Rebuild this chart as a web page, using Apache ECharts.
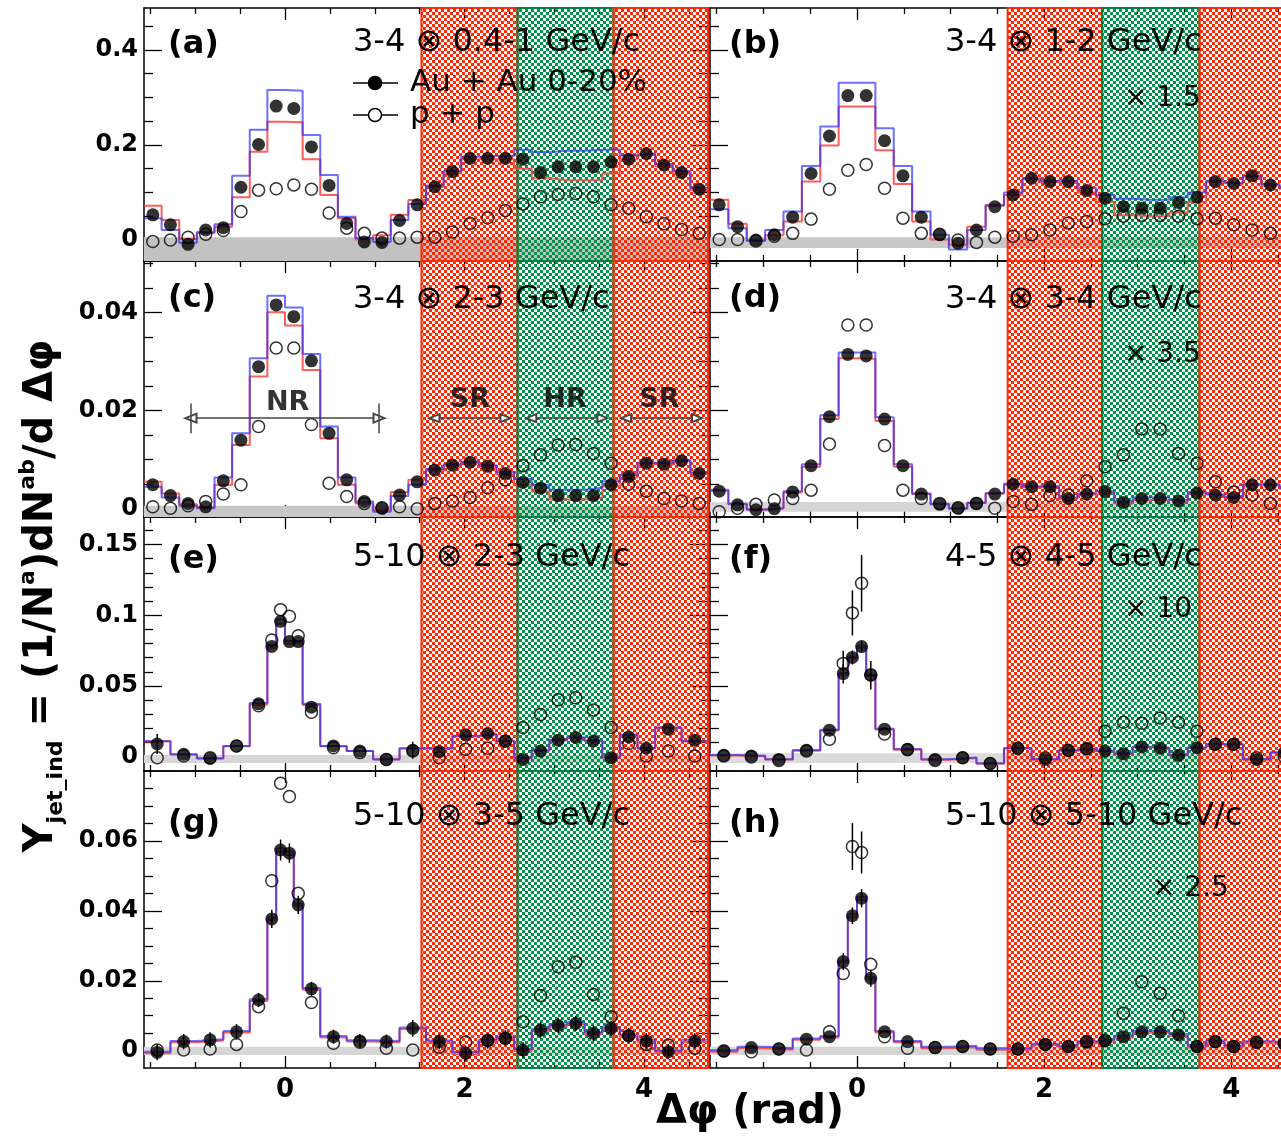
<!DOCTYPE html>
<html><head><meta charset="utf-8">
<script src="https://cdn.jsdelivr.net/npm/echarts@6/dist/echarts.min.js"></script>
<style>html,body{margin:0;padding:0;background:#fff}#c{width:1281px;height:1141px}</style>
</head><body><div id="c"></div>
<script>
const PI = Math.PI;
const U = PI / 32;           // bin edges below are given in units of pi/32

// ---------- binning ----------
const edgesAD = [-16,-14,-12,-10,-8,-6,-4,-2,0,2,4,6,8,10,12,14,16,18,20,22,24,26,28,30,32,34,36,38,40,42,44,46,48];
const edgesEH = [-16,-13,-10,-7,-4,-2,-1,0,1,2,4,7,10,13,16,19,22,24,26,28,30,32,34,36,38,40,42,45,48];

// ---------- panel (a) ----------
const auA = [0.053,0.032,-0.009,0.021,0.026,0.111,0.201,0.282,0.277,0.196,0.115,0.035,-0.004,-0.005,0.041,0.074, 0.112,0.144,0.172,0.172,0.172,0.170,0.142,0.154,0.154,0.154,0.164,0.170,0.182,0.158,0.142,0.107];
const ppA = [-0.003,0.000,0.006,0.012,0.020,0.060,0.105,0.108,0.116,0.107,0.057,0.025,0.014,0.004,0.004,0.006, 0.006,0.017,0.035,0.047,0.062,0.076,0.091,0.096,0.098,0.091,0.074,0.067,0.049,0.034,0.022,0.014];
const hiA = [0.046,0.021,-0.006,0.017,0.033,0.135,0.232,0.316,0.314,0.221,0.137,0.049,0.004,-0.004,0.042,0.076, 0.115,0.145,0.175,0.177,0.177,0.190,0.185,0.188,0.188,0.190,0.190,0.178,0.182,0.160,0.145,0.110];
const loA = [0.072,0.042,0.002,0.015,0.028,0.090,0.186,0.249,0.248,0.170,0.095,0.046,0.001,0.010,0.053,0.084, 0.112,0.140,0.170,0.170,0.170,0.150,0.130,0.126,0.126,0.126,0.140,0.170,0.180,0.155,0.140,0.105];
// ---------- panel (b) ----------
const auB = [0.074,0.028,0.000,0.011,0.048,0.140,0.219,0.304,0.304,0.209,0.135,0.048,0.011,-0.007,0.021,0.070, 0.095,0.130,0.123,0.123,0.104,0.088,0.070,0.067,0.067,0.079,0.090,0.123,0.119,0.135,0.116,0.110];
const ppB = [0.001,0.001,-0.002,0.008,0.014,0.044,0.107,0.147,0.159,0.109,0.046,0.014,0.012,0.000,-0.005,0.006, 0.008,0.011,0.021,0.036,0.039,0.045,0.050,0.052,0.052,0.050,0.045,0.046,0.032,0.021,0.014,0.010];
const hiB = [0.065,0.025,-0.002,0.021,0.060,0.156,0.239,0.331,0.331,0.235,0.156,0.060,0.011,-0.020,0.021,0.072, 0.100,0.130,0.125,0.125,0.110,0.095,0.087,0.085,0.085,0.090,0.100,0.125,0.120,0.135,0.118,0.110];
const loB = [0.085,0.034,0.000,0.010,0.039,0.123,0.199,0.281,0.281,0.189,0.118,0.039,0.001,-0.010,0.028,0.074, 0.095,0.128,0.122,0.120,0.100,0.080,0.052,0.050,0.050,0.058,0.080,0.122,0.118,0.133,0.115,0.108];
// ---------- panel (c) ----------
const auC = [0.0048,0.0026,0.0010,0.0003,0.0056,0.0139,0.0289,0.0415,0.0391,0.0301,0.0153,0.0058,0.0014,0.0000,0.0027,0.0054, 0.0078,0.0088,0.0094,0.0086,0.0071,0.0053,0.0041,0.0026,0.0026,0.0026,0.0048,0.0065,0.0092,0.0090,0.0097,0.0071];
const ppC = [0.0003,0.0000,0.0005,0.0014,0.0029,0.0048,0.0167,0.0327,0.0327,0.0171,0.0051,0.0024,0.0010,0.0001,0.0003,-0.0001, 0.0010,0.0015,0.0022,0.0042,0.0058,0.0087,0.0109,0.0129,0.0130,0.0112,0.0092,0.0049,0.0035,0.0020,0.0015,0.0010];
const hiC = [0.0044,0.0022,0.0005,0.0000,0.0063,0.0153,0.0306,0.0434,0.0410,0.0315,0.0167,0.0063,0.0014,-0.0007,0.0025,0.0048, 0.0080,0.0090,0.0095,0.0088,0.0074,0.0060,0.0048,0.0038,0.0038,0.0042,0.0055,0.0068,0.0093,0.0092,0.0098,0.0073];
const loC = [0.0054,0.0030,0.0008,0.0002,0.0048,0.0129,0.0269,0.0400,0.0373,0.0282,0.0143,0.0048,0.0010,-0.0004,0.0033,0.0058, 0.0077,0.0087,0.0093,0.0085,0.0069,0.0048,0.0034,0.0018,0.0018,0.0022,0.0045,0.0063,0.0090,0.0089,0.0096,0.0070];
// ---------- panel (d) ----------
const auD = [0.0035,0.0007,-0.0003,-0.0001,0.0033,0.0087,0.0187,0.0314,0.0311,0.0182,0.0087,0.0029,0.0008,0.0000,0.0010,0.0029, 0.0049,0.0044,0.0044,0.0020,0.0029,0.0034,0.0012,0.0020,0.0020,0.0015,0.0031,0.0027,0.0022,0.0048,0.0048,0.0040];
const ppD = [-0.0007,0.0000,0.0008,0.0017,0.0020,0.0037,0.0131,0.0374,0.0374,0.0128,0.0037,0.0020,0.0010,0.0001,0.0010,0.0000, 0.0014,0.0008,0.0026,0.0027,0.0056,0.0085,0.0109,0.0162,0.0162,0.0112,0.0092,0.0054,0.0033,0.0027,0.0010,0.0014];
const hiD = [0.0036,0.0008,-0.0003,0.0000,0.0035,0.0090,0.0190,0.0318,0.0318,0.0186,0.0090,0.0030,0.0008,-0.0001,0.0011,0.0030, 0.0050,0.0045,0.0045,0.0022,0.0030,0.0035,0.0014,0.0022,0.0022,0.0017,0.0033,0.0028,0.0023,0.0049,0.0049,0.0041];
const loD = [0.0038,0.0009,-0.0002,0.0000,0.0032,0.0085,0.0182,0.0306,0.0305,0.0178,0.0085,0.0029,0.0009,0.0000,0.0012,0.0031, 0.0048,0.0043,0.0043,0.0019,0.0028,0.0032,0.0010,0.0017,0.0017,0.0013,0.0030,0.0026,0.0021,0.0047,0.0047,0.0040];
// ---------- panel (e) ----------
const auE = [0.0090,0.0017,-0.0012,0.0076,0.0374,0.0780,0.0957,0.0814,0.0814,0.0350,0.0076,0.0040,-0.0019,0.0045, 0.0036,0.0155,0.0164,0.0112,-0.0019,0.0040,0.0117,0.0136,0.0112,-0.0007,0.0140,0.0060,0.0195,0.0117];
const ppE = [-0.0007,0.0005,-0.0007,0.0076,0.0360,0.0826,0.1040,0.0993,0.0855,0.0314,0.0064,0.0029,-0.0019,0.0040, -0.0007,0.0052,0.0060,0.0110,0.0207,0.0298,0.0402,0.0417,0.0331,0.0207,0.0093,0.0005,0.0040,0.0005];
const hiE = [0.0112,0.0017,-0.0012,0.0076,0.0379,0.0790,0.0970,0.0818,0.0818,0.0374,0.0076,0.0041,-0.0019,0.0060, 0.0060,0.0148,0.0160,0.0112,-0.0007,0.0045,0.0120,0.0138,0.0115,-0.0003,0.0155,0.0060,0.0207,0.0112];
const loE = [0.0108,0.0016,-0.0011,0.0074,0.0370,0.0770,0.0940,0.0800,0.0800,0.0366,0.0074,0.0040,-0.0018,0.0058, 0.0058,0.0145,0.0157,0.0110,-0.0010,0.0042,0.0115,0.0133,0.0110,-0.0006,0.0150,0.0058,0.0203,0.0108];
const errAuE = [0.007,0,0,0,0,0,0,0,0,0,0,0,0,0.006, 0,0,0,0,0,0,0,0,0,0,0,0,0,0];
const errPpE = [0,0,0,0,0,0,0,0,0,0,0,0,0,0, 0,0,0,0,0,0,0,0,0,0,0,0,0,0];
// ---------- panel (f) ----------
const auF = [0.0010,0.0005,-0.0019,0.0045,0.0188,0.0588,0.0702,0.0779,0.0576,0.0195,0.0052,-0.0019,-0.0007,-0.0048, 0.0060,-0.0019,0.0045,0.0057,0.0040,0.0021,0.0069,0.0060,0.0010,0.0064,0.0088,0.0088,-0.0019,0.0030];
const ppF = [0.0005,-0.0002,-0.0026,0.0040,0.0124,0.0660,0.1017,0.1226,0.0580,0.0160,0.0050,-0.0026,-0.0007,-0.0048, 0.0060,-0.0007,0.0045,0.0057,0.0180,0.0243,0.0236,0.0274,0.0243,0.0180,0.0088,0.0088,-0.0007,0.0000];
const hiF = [0.0012,0.0006,-0.0018,0.0047,0.0190,0.0592,0.0706,0.0783,0.0580,0.0198,0.0054,-0.0018,-0.0006,-0.0046, 0.0062,-0.0017,0.0047,0.0059,0.0042,0.0024,0.0071,0.0063,0.0013,0.0066,0.0090,0.0090,-0.0017,0.0032];
const loF = [0.0009,0.0004,-0.0020,0.0043,0.0185,0.0582,0.0696,0.0772,0.0570,0.0192,0.0050,-0.0021,-0.0009,-0.0050, 0.0058,-0.0021,0.0043,0.0055,0.0038,0.0019,0.0067,0.0058,0.0008,0.0062,0.0086,0.0086,-0.0021,0.0028];
const errAuF = [0,0,0,0,0,0.007,0.005,0.004,0.010,0,0,0,0,0, 0,0,0,0,0,0,0,0,0,0,0,0,0,0];
const errPpF = [0,0,0,0,0,0.009,0.016,0.020,0,0,0,0,0,0, 0,0,0,0,0,0,0,0,0,0,0,0,0,0];
// ---------- panel (g) ----------
const auG = [-0.0005,0.0026,0.0031,0.0054,0.0145,0.0377,0.0574,0.0565,0.0417,0.0177,0.0040,0.0028,0.0026,0.0064, 0.0026,-0.0007,0.0028,0.0037,0.0002,0.0059,0.0072,0.0078,0.0050,0.0064,0.0043,0.0028,-0.0003,0.0028];
const ppG = [0.0002,0.0002,0.0005,0.0018,0.0126,0.0486,0.0765,0.0727,0.0450,0.0138,0.0021,0.0024,0.0007,0.0002, 0.0010,0.0025,0.0030,0.0035,0.0083,0.0158,0.0240,0.0253,0.0161,0.0097,0.0043,0.0018,0.0016,0.0007];
const hiG = [-0.0003,0.0028,0.0033,0.0056,0.0147,0.0380,0.0578,0.0569,0.0420,0.0179,0.0042,0.0030,0.0028,0.0066, 0.0029,-0.0004,0.0031,0.0040,0.0005,0.0062,0.0075,0.0081,0.0053,0.0067,0.0046,0.0031,0.0000,0.0031];
const loG = [-0.0007,0.0024,0.0029,0.0052,0.0142,0.0373,0.0569,0.0560,0.0413,0.0174,0.0038,0.0026,0.0024,0.0062, 0.0023,-0.0010,0.0025,0.0034,-0.0001,0.0056,0.0069,0.0075,0.0047,0.0061,0.0040,0.0025,-0.0006,0.0025];
const errAuG = [0.0022,0.0022,0.0022,0.0022,0.0020,0.0026,0.0030,0.0028,0.0026,0.0020,0.0020,0.0020,0.0020,0.0024, 0.0022,0.0022,0.0022,0.0022,0.0022,0.0022,0.0022,0.0022,0.0022,0.0022,0.0022,0.0022,0.0022,0.0022];
const errPpG = [0,0,0,0,0,0,0,0,0,0,0,0,0,0, 0,0,0,0,0,0,0,0,0,0,0,0,0,0];
// ---------- panel (h) ----------
const auH = [-0.0001,0.0009,0.0005,0.0033,0.0040,0.0255,0.0386,0.0436,0.0207,0.0054,0.0026,0.0009,0.0012,0.0005, 0.0005,0.0018,0.0012,0.0024,0.0028,0.0040,0.0054,0.0054,0.0045,0.0012,0.0026,0.0012,0.0024,0.0020];
const ppH = [-0.0001,-0.0003,0.0005,0.0002,0.0054,0.0221,0.0584,0.0567,0.0247,0.0040,0.0007,0.0009,0.0012,0.0005, 0.0005,0.0018,0.0012,0.0026,0.0030,0.0107,0.0197,0.0164,0.0100,0.0012,0.0026,0.0012,0.0024,0.0020];
const hiH = [0.0001,0.0011,0.0007,0.0035,0.0042,0.0258,0.0390,0.0440,0.0210,0.0056,0.0028,0.0011,0.0014,0.0007, 0.0007,0.0020,0.0014,0.0027,0.0031,0.0043,0.0057,0.0057,0.0048,0.0015,0.0029,0.0015,0.0027,0.0023];
const loH = [-0.0003,0.0007,0.0003,0.0031,0.0038,0.0252,0.0382,0.0432,0.0204,0.0052,0.0024,0.0007,0.0010,0.0003, 0.0003,0.0016,0.0010,0.0021,0.0025,0.0037,0.0051,0.0051,0.0042,0.0009,0.0023,0.0009,0.0021,0.0017];
const errAuH = [0,0,0,0,0,0.0024,0.0024,0.0026,0.0024,0,0,0,0,0, 0,0,0,0,0,0,0,0,0,0,0,0,0,0];
const errPpH = [0,0,0,0,0,0,0.0067,0.0060,0,0,0,0,0,0, 0,0,0,0,0,0,0,0,0,0,0,0,0,0];

// zero-level systematic bands [low, high]
const bandA = [-0.0442, 0.006], bandB = [-0.017, 0.006], bandC = [-0.0018, 0.0005], bandD = [-0.0007, 0.0013];
const bandE = [-0.0045, 0.0012], bandF = [-0.0045, 0.0025], bandG = [-0.0012, 0.0011], bandH = [-0.0012, 0.0011];

// shoulder / head / shoulder region edges (rad), left and right columns
const regionsLeft  = [1.52, 2.59, 3.66, 3 * PI / 2];
const regionsRight = [1.61, 2.62, 3.66, 3 * PI / 2];

// axis ticks
const xMajor = [0, 2, 4];
const xMinor = [-1.5, -1, -0.5, 0.5, 1, 1.5, 2.5, 3, 3.5, 4.5];
const yRanges = [[-0.0442, 0.4884], [-0.00178, 0.05047], [-0.0101, 0.1695], [-0.00495, 0.0800]];
const yMajor = [[0, 0.2, 0.4], [0, 0.02, 0.04], [0, 0.05, 0.1, 0.15], [0, 0.02, 0.04, 0.06]];
const yMinor = [
  [0.05, 0.1, 0.15, 0.25, 0.3, 0.35, 0.45],
  [0.005, 0.01, 0.015, 0.025, 0.03, 0.035, 0.045, 0.05],
  [0.01, 0.02, 0.03, 0.04, 0.06, 0.07, 0.08, 0.09, 0.11, 0.12, 0.13, 0.14, 0.16],
  [0.005, 0.01, 0.015, 0.025, 0.03, 0.035, 0.045, 0.05, 0.055, 0.065, 0.07, 0.075]
];

// texts
const panelLetters = ['(a)', '(b)', '(c)', '(d)', '(e)', '(f)', '(g)', '(h)'];
const rangeTexts = ['3-4 \u2297 0.4-1 GeV/c', '3-4 \u2297 1-2 GeV/c', '3-4 \u2297 2-3 GeV/c', '3-4 \u2297 3-4 GeV/c',
                    '5-10 \u2297 2-3 GeV/c', '4-5 \u2297 4-5 GeV/c', '5-10 \u2297 3-5 GeV/c', '5-10 \u2297 5-10 GeV/c'];
const scaleTexts = ['', '\u00d7 1.5', '', '\u00d7 3.5', '', '\u00d7 10', '', '\u00d7 2.5'];
const legendNames = ['Au + Au 0-20%', 'p + p'];
const regionNames = ['NR', 'SR', 'HR', 'SR'];
const regionLabelX = [0.03, 2.06, 3.12, 4.17];
const regionLabelY = [0.0214, 0.0222, 0.0222, 0.0222];
const nrRange = [-PI / 3, PI / 3];
const arrowRanges = [[1.665, 2.456], [2.744, 3.536], [3.80, 4.59]];
const arrowY = 0.0184;

const panels = [
  {col: 0, row: 0, edges: edgesAD, au: auA, pp: ppA, hi: hiA, lo: loA, band: bandA, bandColor: '#c2c2c2'},
  {col: 1, row: 0, edges: edgesAD, au: auB, pp: ppB, hi: hiB, lo: loB, band: bandB, bandColor: '#c8c8c8'},
  {col: 0, row: 1, edges: edgesAD, au: auC, pp: ppC, hi: hiC, lo: loC, band: bandC, bandColor: '#c8c8c8'},
  {col: 1, row: 1, edges: edgesAD, au: auD, pp: ppD, hi: hiD, lo: loD, band: bandD, bandColor: '#d6d6d6'},
  {col: 0, row: 2, edges: edgesEH, au: auE, pp: ppE, hi: hiE, lo: loE, band: bandE, bandColor: '#d6d6d6', eAu: errAuE, ePp: errPpE},
  {col: 1, row: 2, edges: edgesEH, au: auF, pp: ppF, hi: hiF, lo: loF, band: bandF, bandColor: '#dadada', eAu: errAuF, ePp: errPpF},
  {col: 0, row: 3, edges: edgesEH, au: auG, pp: ppG, hi: hiG, lo: loG, band: bandG, bandColor: '#d6d6d6', eAu: errAuG, ePp: errPpG},
  {col: 1, row: 3, edges: edgesEH, au: auH, pp: ppH, hi: hiH, lo: loH, band: bandH, bandColor: '#d6d6d6', eAu: errAuH, ePp: errPpH}
];

// ---------- layout (pixels) ----------
const colLeft = [144, 710], colWidth = [564, 588];
const rowTop = [8, 261, 517, 771], rowHeight = [253, 256, 254, 297];

function checker(color, cell) {
  const cv = document.createElement('canvas');
  cv.width = cv.height = cell * 2;
  const g = cv.getContext('2d');
  g.fillStyle = color;
  g.fillRect(0, 0, cell, cell);
  g.fillRect(cell, cell, cell, cell);
  return cv;
}
const RED = '#ff2a05', GREEN = '#00914a';
const redPat = {image: checker(RED, 3), repeat: 'repeat'};
const greenPat = {image: checker(GREEN, 3), repeat: 'repeat'};

const FONT = 'DejaVu Sans';
const fmt = v => String(+(+v).toFixed(4));

const grids = [], xAxes = [], yAxes = [], series = [], graphics = [];

function stepPoints(edges, vals) {
  const pts = [];
  vals.forEach((v, i) => { pts.push([edges[i] * U, v], [edges[i + 1] * U, v]); });
  return pts;
}
function errSeries(xi, yi, centers, vals, errs, z) {
  const data = [];
  centers.forEach((c, i) => { if (errs && errs[i]) data.push([c, vals[i], errs[i]]); });
  return {
    type: 'custom', xAxisIndex: xi, yAxisIndex: yi, z: z, silent: true, clip: true,
    data: data, encode: {x: 0, y: 1},
    renderItem: (params, api) => {
      const x = api.value(0), y = api.value(1), e = api.value(2);
      const p1 = api.coord([x, y - e]), p2 = api.coord([x, y + e]);
      return {type: 'line', shape: {x1: p1[0], y1: p1[1], x2: p2[0], y2: p2[1]}, style: {stroke: '#000', lineWidth: 1.5}};
    }
  };
}

panels.forEach((p, k) => {
  const r = p.row, c = p.col;
  grids.push({left: colLeft[c], top: rowTop[r], width: colWidth[c], height: rowHeight[r], outerBoundsMode: 'none', containLabel: false});
  const xi = xAxes.length, yi = yAxes.length;
  const xBase = {gridIndex: k, type: 'value', min: -PI / 2, max: 3 * PI / 2, splitLine: {show: false}};
  const line = {show: true, onZero: false, lineStyle: {color: '#000', width: 1.5}};
  const noLine = {show: false, onZero: false};
  const tickStyle = {color: '#000', width: 1.3};
  ['bottom', 'top'].forEach(pos => {
    xAxes.push(Object.assign({}, xBase, {
      position: pos, axisLine: line,
      axisTick: {show: true, inside: true, length: 12, customValues: xMajor, lineStyle: tickStyle},
      axisLabel: {show: pos === 'bottom' && r === 3, customValues: xMajor, formatter: fmt,
        fontFamily: FONT, fontWeight: 'bold', fontSize: 26, color: '#000', margin: 9}
    }));
    xAxes.push(Object.assign({}, xBase, {
      position: pos, axisLine: noLine,
      axisTick: {show: true, inside: true, length: 6, customValues: xMinor, lineStyle: tickStyle},
      axisLabel: {show: false}
    }));
  });
  const yBase = {gridIndex: k, type: 'value', min: yRanges[r][0], max: yRanges[r][1], splitLine: {show: false}};
  ['left', 'right'].forEach(pos => {
    yAxes.push(Object.assign({}, yBase, {
      position: pos, axisLine: line,
      axisTick: {show: true, inside: true, length: 18, customValues: yMajor[r], lineStyle: tickStyle},
      axisLabel: {show: pos === 'left' && c === 0, customValues: yMajor[r], formatter: fmt,
        fontFamily: FONT, fontWeight: 'bold', fontSize: 24, color: '#000', margin: 6}
    }));
    yAxes.push(Object.assign({}, yBase, {
      position: pos, axisLine: noLine,
      axisTick: {show: true, inside: true, length: 9, customValues: yMinor[r], lineStyle: tickStyle},
      axisLabel: {show: false}
    }));
  });

  const centers = p.au.map((v, i) => (p.edges[i] + p.edges[i + 1]) / 2 * U);
  const ax = {xAxisIndex: xi, yAxisIndex: yi};

  // zero-level band
  series.push(Object.assign({type: 'line', data: [], z: 1, silent: true,
    markArea: {silent: true, itemStyle: {color: p.bandColor},
      data: [[{xAxis: -PI / 2, yAxis: p.band[0]}, {xAxis: 3 * PI / 2, yAxis: p.band[1]}]]}}, ax));
  // systematic histograms
  series.push(Object.assign({type: 'line', name: 'lower', data: stepPoints(p.edges, p.lo), showSymbol: false, z: 2,
    silent: true, lineStyle: {color: '#ff4040', width: 2, opacity: 0.85}}, ax));
  series.push(Object.assign({type: 'line', name: 'upper', data: stepPoints(p.edges, p.hi), showSymbol: false, z: 2,
    silent: true, lineStyle: {color: '#3030ff', width: 2, opacity: 0.7}}, ax));
  // p+p
  if (p.ePp) series.push(errSeries(xi, yi, centers, p.pp, p.ePp, 3));
  series.push(Object.assign({type: 'scatter', name: legendNames[1], data: centers.map((x, i) => [x, p.pp[i]]),
    symbol: 'circle', symbolSize: 12, z: 3, silent: true,
    itemStyle: {color: 'rgba(255,255,255,0)', borderColor: '#000', borderWidth: 1.5}}, ax));
  // Au+Au
  if (p.eAu) series.push(errSeries(xi, yi, centers, p.au, p.eAu, 4));
  series.push(Object.assign({type: 'scatter', name: legendNames[0], data: centers.map((x, i) => [x, p.au[i]]),
    symbol: 'circle', symbolSize: 13, z: 4, silent: true, itemStyle: {color: '#000'}}, ax));

  // region annotations in panel (c)
  if (k === 2) {
    const ml = [];
    ml.push([{coord: [nrRange[0], arrowY], symbol: 'emptyTriangle', symbolSize: [9, 11]},
             {coord: [nrRange[1], arrowY], symbol: 'emptyTriangle', symbolSize: [9, 11]}]);
    ml.push([{coord: [nrRange[0], 0.0153]}, {coord: [nrRange[0], 0.0214]}]);
    ml.push([{coord: [nrRange[1], 0.0153]}, {coord: [nrRange[1], 0.0214]}]);
    arrowRanges.forEach(a => ml.push([{coord: [a[0], arrowY], symbol: 'emptyTriangle', symbolSize: [8, 10]},
                                      {coord: [a[1], arrowY], symbol: 'emptyTriangle', symbolSize: [8, 10]}]));
    series.push(Object.assign({type: 'scatter', z: 5, silent: true, symbolSize: 1, itemStyle: {color: 'rgba(0,0,0,0)'},
      data: regionNames.map((n, i) => ({value: [regionLabelX[i], regionLabelY[i]], label: {formatter: n}})),
      label: {show: true, position: 'inside', fontFamily: FONT, fontWeight: 'bold', fontSize: 27, color: '#000'},
      markLine: {silent: true, symbol: 'none', label: {show: false}, animation: false,
        lineStyle: {color: '#444', width: 1.5, type: 'solid'}, data: ml}}, ax));
  }

  // hatched regions (drawn on top)
  const reg = c === 0 ? regionsLeft : regionsRight;
  const y0 = yRanges[r][0], y1 = yRanges[r][1];
  const area = (a, b, pat, col) => [{xAxis: a, yAxis: y0, itemStyle: {color: pat, borderColor: col, borderWidth: 2}}, {xAxis: b, yAxis: y1}];
  series.push(Object.assign({type: 'line', data: [], z: 20, silent: true,
    markArea: {silent: true, data: [
      area(reg[0], reg[1], redPat, RED),
      area(reg[1], reg[2], greenPat, '#00803f'),
      area(reg[2], reg[3], redPat, RED)
    ]}}, ax));

  // panel texts
  const lx = c === 0 ? 168 : 729;
  const ly = [45, 299, 560, 824][r];
  graphics.push({type: 'text', x: lx, y: ly, z: 10, silent: true,
    style: {text: panelLetters[k], font: 'bold 32px "DejaVu Sans"', fill: '#000', verticalAlign: 'middle'}});
  const tx = c === 0 ? 353 : 945;
  const ty = [43, 300, 558, 817][r];
  graphics.push({type: 'text', x: tx, y: ty, z: 10, silent: true,
    style: {text: rangeTexts[k], font: '32px "DejaVu Sans"', fill: '#000', verticalAlign: 'middle'}});
  if (scaleTexts[k]) {
    const sp = {1: [1124, 99], 3: [1124, 355], 5: [1124, 610], 7: [1152, 889]}[k];
    graphics.push({type: 'text', x: sp[0], y: sp[1], z: 10, silent: true,
      style: {text: scaleTexts[k], font: '28px "DejaVu Sans"', fill: '#000', verticalAlign: 'middle'}});
  }
});

// legend of panel (a)
[[83, '#000'], [115, '#fff']].forEach((d, i) => {
  graphics.push({type: 'line', z: 10, silent: true, shape: {x1: 353, y1: d[0], x2: 398, y2: d[0]}, style: {stroke: '#000', lineWidth: 1.5}});
  graphics.push({type: 'circle', z: 11, silent: true, shape: {cx: 375, cy: d[0], r: 6.5}, style: {fill: d[1], stroke: '#000', lineWidth: 1.5}});
  graphics.push({type: 'text', x: 410, y: d[0], z: 10, silent: true,
    style: {text: legendNames[i], font: '31px "DejaVu Sans"', fill: '#000', verticalAlign: 'middle'}});
});

// axis titles
graphics.push({type: 'text', x: 750, y: 1113, z: 10, silent: true,
  style: {text: '\u0394\u03c6 (rad)', font: 'bold 40px "DejaVu Sans"', fill: '#000', align: 'center', verticalAlign: 'middle'}});
graphics.push({type: 'text', x: 42, y: 596, rotation: PI / 2, z: 10, silent: true,
  style: {
    text: '{m|Y}{s|jet_ind}{m| = (1/N}{p|a}{m|)dN}{p|ab}{m|/d \u0394\u03c6}',
    align: 'center', verticalAlign: 'middle', fill: '#000',
    rich: {
      m: {fontFamily: FONT, fontWeight: 'bold', fontSize: 40, lineHeight: 50, verticalAlign: 'middle', fill: '#000'},
      s: {fontFamily: FONT, fontWeight: 'bold', fontSize: 22, lineHeight: 50, verticalAlign: 'bottom', fill: '#000'},
      p: {fontFamily: FONT, fontWeight: 'bold', fontSize: 22, lineHeight: 50, verticalAlign: 'top', fill: '#000'}
    }
  }});

const chart = echarts.init(document.getElementById('c'), null, {renderer: 'canvas'});
chart.setOption({
  animation: false,
  backgroundColor: '#fff',
  grid: grids, xAxis: xAxes, yAxis: yAxes, series: series, graphic: graphics
});
</script></body></html>
